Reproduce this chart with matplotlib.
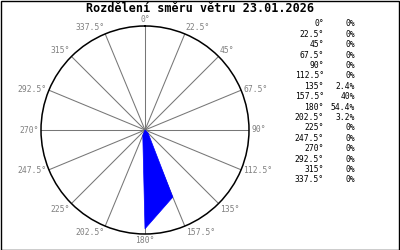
import numpy as np
import matplotlib.pyplot as plt
from matplotlib.patches import Rectangle

# wind direction distribution
directions = [0, 22.5, 45, 67.5, 90, 112.5, 135, 157.5, 180, 202.5, 225, 247.5, 270, 292.5, 315, 337.5]
dir_labels = ["0°", "22.5°", "45°", "67.5°", "90°", "112.5°", "135°", "157.5°",
              "180°", "202.5°", "225°", "247.5°", "270°", "292.5°", "315°", "337.5°"]
percent = [0, 0, 0, 0, 0, 0, 2.4, 40, 54.4, 3.2, 0, 0, 0, 0, 0, 0]
pct_labels = ["0%", "0%", "0%", "0%", "0%", "0%", "2.4%", "40%",
              "54.4%", "3.2%", "0%", "0%", "0%", "0%", "0%", "0%"]
title = "Rozdělení směru větru 23.01.2026"

plt.rcParams['font.family'] = 'DejaVu Sans Mono'

fig = plt.figure(figsize=(4, 2.5), dpi=100)
fig.patch.set_facecolor('white')

W, H = 400, 250
cx, cy, R = 145, 130, 104
ax = fig.add_axes([(cx - R) / W, (H - cy - R) / H, 2 * R / W, 2 * R / H], polar=True)
ax.set_theta_zero_location('N')
ax.set_theta_direction(-1)

theta = np.radians(directions)
rmax = max(percent) / 0.95
ax.fill(np.append(theta, theta[0]), np.append(percent, percent[0]),
        color='#0000ff', lw=0.5, zorder=3)
ax.set_ylim(0, rmax)

ax.set_rgrids([1e-9], labels=[''])
ax.yaxis.grid(False)
ax.set_thetagrids(directions, labels=[''] * len(directions))
ax.xaxis.grid(True, color='#777777', lw=0.75)
ax.spines['polar'].set_color('black')
ax.spines['polar'].set_linewidth(1.1)
ax.tick_params(length=0)

# direction labels just outside the circle
for d, lab in zip(directions, dir_labels):
    t = np.radians(d)
    s, c = np.sin(t), np.cos(t)
    ha = 'center' if abs(s) < 0.01 else ('left' if s > 0 else 'right')
    va = 'center' if abs(c) < 0.5 else ('bottom' if c > 0 else 'top')
    if abs(s) < 0.01:
        va = 'bottom' if c > 0 else 'top'
    ax.text(t, rmax * 1.02, lab, ha=ha, va=va, fontsize=5.8, color='#808080', clip_on=False)

# table on the right
for i, (lab, p) in enumerate(zip(dir_labels, pct_labels)):
    y = 1 - (24 + i * 10.4) / H
    fig.text(324 / W, y, lab, ha='right', va='center', fontsize=5.8, color='black')
    fig.text(355 / W, y, p, ha='right', va='center', fontsize=5.8, color='black')

fig.text(200 / W, 1 - 9 / H, title, ha='center', va='center', fontsize=8.5, fontweight='bold')

fig.patches.append(Rectangle((0.5 / W, 0.5 / H), 398 / W, 248.5 / H, transform=fig.transFigure,
                             fill=False, edgecolor='black', lw=1))

fig.savefig('out.png', dpi=100)
